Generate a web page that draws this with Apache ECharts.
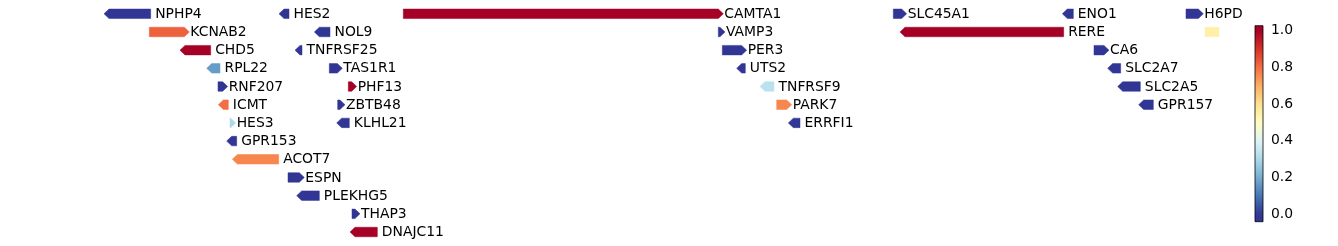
<!DOCTYPE html>
<html>
<head>
<meta charset="utf-8">
<script src="https://cdn.jsdelivr.net/npm/echarts@6/dist/echarts.min.js"></script>
<style>
html,body{margin:0;padding:0;background:#fff;}
#chart{width:1338px;height:246px;}
</style>
</head>
<body>
<div id="chart"></div>
<script>
// ---- data (genomic positions in kb) ----
const genes   = ["NPHP4","HES2","CAMTA1","SLC45A1","ENO1","H6PD",
                 "KCNAB2","NOL9","VAMP3","RERE","",
                 "CHD5","TNFRSF25","PER3","CA6",
                 "RPL22","TAS1R1","UTS2","SLC2A7",
                 "RNF207","PHF13","TNFRSF9","SLC2A5",
                 "ICMT","ZBTB48","PARK7","GPR157",
                 "HES3","KLHL21","ERRFI1",
                 "GPR153","ACOT7","ESPN","PLEKHG5","THAP3","DNAJC11"];
const starts  = [5860,6385,6758,8228,8735,9106,
                 5996,6491,7703,8248,9163,
                 6088,6433,7715,8830,
                 6168,6536,7758,8871,
                 6202,6593,7828,8901,
                 6203,6561,7878,8964,
                 6238,6558,7913,
                 6228,6245,6412,6438,6604,6598];
const ends    = [6000,6415,7718,8268,8768,9158,
                 6116,6538,7723,8739,9205,
                 6180,6454,7788,8875,
                 6208,6575,7784,8910,
                 6231,6618,7870,8969,
                 6233,6583,7923,9008,
                 6255,6596,7948,
                 6258,6384,6461,6506,6628,6680];
const strands = ["-","-","+","+","-","+",
                 "+","-","+","-",".",
                 "-","-","+","+",
                 "-","+","-","-",
                 "+","+","-","-",
                 "-","+","+","-",
                 "+","-","-",
                 "-","-","+","-","+","-"];
const rows    = [0,0,0,0,0,0,
                 1,1,1,1,1,
                 2,2,2,2,
                 3,3,3,3,
                 4,4,4,4,
                 5,5,5,5,
                 6,6,6,
                 7,8,9,10,11,12];
const values  = [0,0,1,0,0,0,
                 0.82,0,0,1,0.55,
                 1,0,0,0,
                 0.17,0,0,0,
                 0,1,0.33,0,
                 0.80,0,0.76,0,
                 0.30,0,0,
                 0,0.76,0,0,0,1];
const cbTicks = [0.0,0.2,0.4,0.6,0.8,1.0];
const CB_MIN = -0.04, CB_MAX = 1.027;

// RdYlBu_r colormap
const cmapColors = ["#313695","#4575b4","#74add1","#abd9e9","#e0f3f8","#ffffbf",
                    "#fee090","#fdae61","#f46d43","#d73027","#a50026"];
function hex2rgb(h){return [parseInt(h.substr(1,2),16),parseInt(h.substr(3,2),16),parseInt(h.substr(5,2),16)];}
function cmap(t){
  t = Math.max(0, Math.min(1, t));
  const n = cmapColors.length - 1;
  const p = t * n; const i = Math.min(Math.floor(p), n - 1); const f = p - i;
  const a = hex2rgb(cmapColors[i]), b = hex2rgb(cmapColors[i+1]);
  const c = a.map((v,k)=>Math.round(v + (b[k]-v)*f));
  return 'rgb(' + c.join(',') + ')';
}

const geneData = genes.map((g,i)=>[starts[i], ends[i], rows[i], i]);

const chart = echarts.init(document.getElementById('chart'), null, {renderer:'canvas'});
const FONT = '13.9px "DejaVu Sans"';

function renderGene(params, api){
  const i = api.value(3);
  const p0 = api.coord([api.value(0), api.value(2)]);
  const p1 = api.coord([api.value(1), api.value(2)]);
  const x0 = p0[0], x1 = p1[0], y = p0[1];
  const h = 9.5, hh = h/2;
  const w = x1 - x0;
  const head = Math.min(5, w);
  const s = strands[i];
  let pts;
  if (s === '+') {
    pts = [[x0,y-hh],[x1-head,y-hh],[x1,y],[x1-head,y+hh],[x0,y+hh]];
  } else if (s === '-') {
    pts = [[x0,y],[x0+head,y-hh],[x1,y-hh],[x1,y+hh],[x0+head,y+hh]];
  } else {
    pts = [[x0,y-hh],[x1,y-hh],[x1,y+hh],[x0,y+hh]];
  }
  const col = cmap(values[i]);
  const children = [{
    type:'polygon', shape:{points:pts},
    style:{fill:col, stroke:col, lineWidth:0.5, opacity:1}
  }];
  if (genes[i]) {
    children.push({
      type:'text',
      style:{x: x1 + (s === '+' ? 1 : 4.5), y: y + 0.5, text: genes[i], fill:'#000',
             font: FONT, align:'left', verticalAlign:'middle'}
    });
  }
  return {type:'group', children};
}

function renderColorbar(params, api){
  const pTop = api.coord([0, CB_MAX]);
  const pBot = api.coord([1, CB_MIN]);
  const stops = [];
  const N = 40;
  for (let k = 0; k <= N; k++) {
    const v = CB_MAX - (CB_MAX - CB_MIN) * k / N;
    stops.push({offset: k / N, color: cmap(v)});
  }
  return {
    type:'rect',
    shape:{x:pTop[0], y:pTop[1], width:pBot[0]-pTop[0], height:pBot[1]-pTop[1]},
    style:{fill: new echarts.graphic.LinearGradient(0,0,0,1,stops), stroke:'#000', lineWidth:0.8}
  };
}

const option = {
  animation:false,
  backgroundColor:'#fff',
  grid:[
    {left:10, width:1220, top:4.7, height:236.4},
    {left:1255, width:8, top:25.7, height:196}
  ],
  xAxis:[
    {gridIndex:0, type:'value', min:5578, max:9238, show:false},
    {gridIndex:1, type:'value', min:0, max:1, show:false}
  ],
  yAxis:[
    {gridIndex:0, type:'value', min:-0.5, max:12.5, inverse:true, show:false},
    {gridIndex:1, type:'value', min:CB_MIN, max:CB_MAX, position:'right',
     axisLine:{show:false},
     splitLine:{show:false},
     axisTick:{show:true, length:3.5, lineStyle:{color:'#000', width:0.8}, customValues:cbTicks},
     axisLabel:{show:true, color:'#000', fontSize:13.9, fontFamily:'DejaVu Sans', margin:8,
                customValues:cbTicks, formatter:(v)=>v.toFixed(1)}}
  ],
  series:[
    {type:'custom', xAxisIndex:0, yAxisIndex:0, clip:false, renderItem:renderGene,
     data:geneData, encode:{x:[0,1], y:2}},
    {type:'custom', xAxisIndex:1, yAxisIndex:1, clip:false, renderItem:renderColorbar,
     data:[[0]]}
  ]
};
chart.setOption(option);
</script>
</body>
</html>
